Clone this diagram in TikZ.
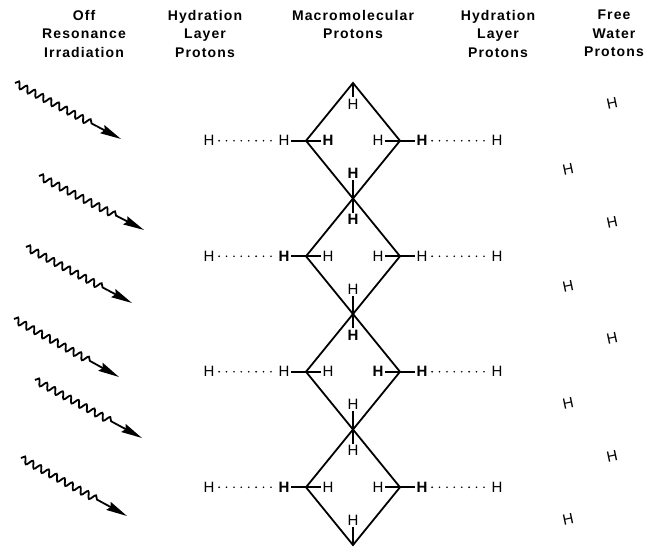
\documentclass[tikz,border=0pt]{standalone}
\usepackage{fontspec}
\setmainfont{Liberation Sans}
\newfontfamily\headerfont[LetterSpace=8]{Liberation Sans}
\usepackage{tikz}
\usetikzlibrary{arrows.meta, positioning, calc, decorations.pathmorphing}

\begin{document}
\begin{tikzpicture}[x=1pt, y=-1pt, node distance=22pt]
	\tikzstyle{header} = [anchor=north, align=center, inner sep=0pt, 
	font=\headerfont\bfseries\fontsize{14}{18.5}\selectfont]
	\tikzstyle{proton} = [inner sep=1.5pt, font=\fontsize{15}{18}\selectfont]
	\tikzstyle{boldProton} = [proton, font=\fontsize{15}{18}\selectfont\bfseries]
	\tikzstyle{freeProton} = [proton, rotate=12]
	\tikzstyle{bond} = [line width=1.8pt]
	\tikzstyle{hBond} = [line width=1.8pt, line cap=round, dash pattern=on 0pt off 7.4pt, 
	shorten <=3pt, shorten >=3pt]
	\tikzstyle{ray} = [line width=1.8pt, decorate, 
	decoration={snake, segment length=9pt, amplitude=3.3pt, post length=3pt}]
	\tikzstyle{rayHead} = [line width=1.8pt, -{Stealth[length=21pt,width=9pt,inset=2.5pt]}]
	\useasboundingbox (0,0) rectangle (647,548);
	% column titles
	\node (offResonance) [header] at (84,10) {Off\\Resonance\\Irradiation};
	\node (hydrationLeft) [header] at (205,10) {Hydration\\Layer\\Protons};
	\node (macromolecular) [header] at (353,10) {Macromolecular\\Protons};
	\node (hydrationRight) [header] at (498,10) {Hydration\\Layer\\Protons};
	\node (freeWater) [header] at (614,10) {Free\\Water\\Protons};
	% corners of the chain
	\coordinate (joint0) at (353,83);
	\coordinate (joint1) at (353,198.5);
	\coordinate (joint2) at (353,314);
	\coordinate (joint3) at (353,429.5);
	\coordinate (joint4) at (353,545);
	\coordinate (leftCorner1) at (306,140.75);
	\coordinate (rightCorner1) at (400,140.75);
	\coordinate (leftCorner2) at (306,256.25);
	\coordinate (rightCorner2) at (400,256.25);
	\coordinate (leftCorner3) at (306,371.75);
	\coordinate (rightCorner3) at (400,371.75);
	\coordinate (leftCorner4) at (306,487.25);
	\coordinate (rightCorner4) at (400,487.25);
	% first unit
	\node (topH1) [proton, below of=joint0, node distance=21pt] {H};
	\node (bottomH1) [boldProton, above of=joint1, node distance=25pt] {H};
	\node (innerLeftH1) [boldProton, right of=leftCorner1] {H};
	\node (outerLeftH1) [proton, left of=leftCorner1] {H};
	\node (innerRightH1) [proton, left of=rightCorner1] {H};
	\node (outerRightH1) [boldProton, right of=rightCorner1] {H};
	\node (layerLeftH1) [proton, left of=outerLeftH1, node distance=75pt] {H};
	\node (layerRightH1) [proton, right of=outerRightH1, node distance=75pt] {H};
	% second unit
	\node (topH2) [boldProton, below of=joint1, node distance=21pt] {H};
	\node (bottomH2) [proton, above of=joint2, node distance=25pt] {H};
	\node (innerLeftH2) [proton, right of=leftCorner2] {H};
	\node (outerLeftH2) [boldProton, left of=leftCorner2] {H};
	\node (innerRightH2) [proton, left of=rightCorner2] {H};
	\node (outerRightH2) [proton, right of=rightCorner2] {H};
	\node (layerLeftH2) [proton, left of=outerLeftH2, node distance=75pt] {H};
	\node (layerRightH2) [proton, right of=outerRightH2, node distance=75pt] {H};
	% third unit
	\node (topH3) [boldProton, below of=joint2, node distance=21pt] {H};
	\node (bottomH3) [proton, above of=joint3, node distance=25pt] {H};
	\node (innerLeftH3) [proton, right of=leftCorner3] {H};
	\node (outerLeftH3) [proton, left of=leftCorner3] {H};
	\node (innerRightH3) [boldProton, left of=rightCorner3] {H};
	\node (outerRightH3) [boldProton, right of=rightCorner3] {H};
	\node (layerLeftH3) [proton, left of=outerLeftH3, node distance=75pt] {H};
	\node (layerRightH3) [proton, right of=outerRightH3, node distance=75pt] {H};
	% fourth unit
	\node (topH4) [proton, below of=joint3, node distance=21pt] {H};
	\node (bottomH4) [proton, above of=joint4, node distance=25pt] {H};
	\node (innerLeftH4) [proton, right of=leftCorner4] {H};
	\node (outerLeftH4) [boldProton, left of=leftCorner4] {H};
	\node (innerRightH4) [proton, left of=rightCorner4] {H};
	\node (outerRightH4) [boldProton, right of=rightCorner4] {H};
	\node (layerLeftH4) [proton, left of=outerLeftH4, node distance=75pt] {H};
	\node (layerRightH4) [proton, right of=outerRightH4, node distance=75pt] {H};
	% free water
	\node (freeH1) [freeProton] at (612,103) {H};
	\node (freeH2) [freeProton] at (568,169) {H};
	\node (freeH3) [freeProton] at (612,222) {H};
	\node (freeH4) [freeProton] at (568,286) {H};
	\node (freeH5) [freeProton] at (612,338) {H};
	\node (freeH6) [freeProton] at (568,403) {H};
	\node (freeH7) [freeProton] at (612,456) {H};
	\node (freeH8) [freeProton] at (568,519) {H};
	% irradiation
	\coordinate (rayStart1) at (15,83);
	\coordinate (rayEnd1) at (121,139);
	\coordinate (rayStart2) at (39,176);
	\coordinate (rayEnd2) at (144,230);
	\coordinate (rayStart3) at (26,247);
	\coordinate (rayEnd3) at (132,303);
	\coordinate (rayStart4) at (14,319);
	\coordinate (rayEnd4) at (119,377);
	\coordinate (rayStart5) at (35,380);
	\coordinate (rayEnd5) at (142,438);
	\coordinate (rayStart6) at (21,458);
	\coordinate (rayEnd6) at (127,516);
	\coordinate (rayBend1) at ($(rayStart1)!0.77!(rayEnd1)$);
	\coordinate (rayBend2) at ($(rayStart2)!0.77!(rayEnd2)$);
	\coordinate (rayBend3) at ($(rayStart3)!0.77!(rayEnd3)$);
	\coordinate (rayBend4) at ($(rayStart4)!0.77!(rayEnd4)$);
	\coordinate (rayBend5) at ($(rayStart5)!0.77!(rayEnd5)$);
	\coordinate (rayBend6) at ($(rayStart6)!0.77!(rayEnd6)$);
	\draw [ray] (rayStart1) -- (rayBend1);
	\draw [ray] (rayStart2) -- (rayBend2);
	\draw [ray] (rayStart3) -- (rayBend3);
	\draw [ray] (rayStart4) -- (rayBend4);
	\draw [ray] (rayStart5) -- (rayBend5);
	\draw [ray] (rayStart6) -- (rayBend6);
	\draw [rayHead] (rayBend1) -- (rayEnd1);
	\draw [rayHead] (rayBend2) -- (rayEnd2);
	\draw [rayHead] (rayBend3) -- (rayEnd3);
	\draw [rayHead] (rayBend4) -- (rayEnd4);
	\draw [rayHead] (rayBend5) -- (rayEnd5);
	\draw [rayHead] (rayBend6) -- (rayEnd6);
	% diamonds
	\draw [bond] (joint0) -- (rightCorner1) -- (joint1) -- (leftCorner1) -- cycle;
	\draw [bond] (joint1) -- (rightCorner2) -- (joint2) -- (leftCorner2) -- cycle;
	\draw [bond] (joint2) -- (rightCorner3) -- (joint3) -- (leftCorner3) -- cycle;
	\draw [bond] (joint3) -- (rightCorner4) -- (joint4) -- (leftCorner4) -- cycle;
	% bonds
	\draw [bond] (joint0) -- (topH1);
	\draw [bond] (joint1) -- (bottomH1);
	\draw [bond] (joint1) -- (topH2);
	\draw [bond] (joint2) -- (bottomH2);
	\draw [bond] (joint2) -- (topH3);
	\draw [bond] (joint3) -- (bottomH3);
	\draw [bond] (joint3) -- (topH4);
	\draw [bond] (joint4) -- (bottomH4);
	\draw [bond] (outerLeftH1) -- (leftCorner1) -- (innerLeftH1);
	\draw [bond] (innerRightH1) -- (rightCorner1) -- (outerRightH1);
	\draw [bond] (outerLeftH2) -- (leftCorner2) -- (innerLeftH2);
	\draw [bond] (innerRightH2) -- (rightCorner2) -- (outerRightH2);
	\draw [bond] (outerLeftH3) -- (leftCorner3) -- (innerLeftH3);
	\draw [bond] (innerRightH3) -- (rightCorner3) -- (outerRightH3);
	\draw [bond] (outerLeftH4) -- (leftCorner4) -- (innerLeftH4);
	\draw [bond] (innerRightH4) -- (rightCorner4) -- (outerRightH4);
	% hydrogen bonds
	\draw [hBond] (layerLeftH1) -- (outerLeftH1);
	\draw [hBond] (outerRightH1) -- (layerRightH1);
	\draw [hBond] (layerLeftH2) -- (outerLeftH2);
	\draw [hBond] (outerRightH2) -- (layerRightH2);
	\draw [hBond] (layerLeftH3) -- (outerLeftH3);
	\draw [hBond] (outerRightH3) -- (layerRightH3);
	\draw [hBond] (layerLeftH4) -- (outerLeftH4);
	\draw [hBond] (outerRightH4) -- (layerRightH4);
\end{tikzpicture}
\end{document}
